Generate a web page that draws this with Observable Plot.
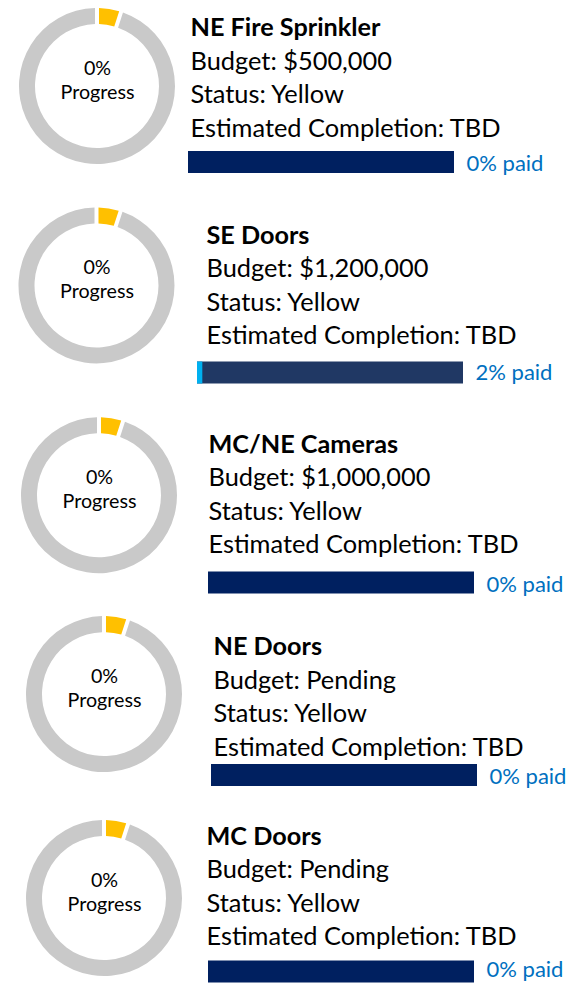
<!DOCTYPE html>
<html>
<head>
<meta charset="utf-8">
<script src="https://cdn.jsdelivr.net/npm/d3@7"></script>
<script src="https://cdn.jsdelivr.net/npm/@observablehq/plot@0.6"></script>
<style>
  html, body { margin: 0; padding: 0; background: #ffffff; overflow: hidden; }
  #chart svg { display: block; }
</style>
</head>
<body>
<div id="chart"></div>
<script>
// ---------- DATA ----------
const projects     = ["NE Fire Sprinkler", "SE Doors", "MC/NE Cameras", "NE Doors", "MC Doors"];
const budgets      = ["$500,000", "$1,200,000", "$1,000,000", "Pending", "Pending"];
const statuses     = ["Yellow", "Yellow", "Yellow", "Yellow", "Yellow"];
const completions  = ["TBD", "TBD", "TBD", "TBD", "TBD"];
const progressPct  = [0, 0, 0, 0, 0];   // "% Progress" shown in each donut
const statusSlice  = [5, 5, 5, 5, 5];   // size (percent of ring) of the status wedge
const paidPct      = [0, 2, 0, 0, 0];   // "% paid" on each bar

// ---------- STYLE / LAYOUT (kept apart from the data) ----------
const W = 574, H = 983;
const ringGray = "#C9C9C9", statusColor = "#FFC000";
const barColors = ["#002060", "#203864", "#002060", "#002060", "#002060"];
const paidColor = "#00B0F0", paidTextColor = "#0070C0";
const innerR = 62, outerR = 78;
const donutX = 100;          // uniform donut centre x
const titleDy = -46;         // title baseline relative to row centre
const lineGap = 33.5;        // spacing of text lines
const barDy = 81;            // bar centre relative to row centre
const barH = 22;
// small per-row nudges reproducing the slide's hand placement
const donutDx = [-3, -3.5, -1, 4, 4];
const donutDy = [0, -3.6, 3.2, -0.9, 0];
const textDx  = [-15, 1, 3, 8, 1];
const textDy  = [-4.5, 0, 6, 5.5, -8];
const barDx   = [-17, -8, 3, 6, 3];
const barDyN  = [-5.5, 2, 9, -1.5, -8];
const paidDyN = [0, -2, 0, 0, -4];   // keeps the last label inside the frame

// font sizes fitted so that Lato matches the widths of the original text
const ctx = document.createElement("canvas").getContext("2d");
function fit(text, weight, target) {
  ctx.font = `${weight} 100px Lato`;
  return 100 * target / ctx.measureText(text).width;
}
const bodySize  = fit("Estimated Completion: TBD", "normal", 311);
const titleSize = fit("NE Fire Sprinkler", "bold", 190);
const paidSize  = fit("0% paid", "normal", 77);
const donutSize = fit("Progress", "normal", 74);

const rows = projects.map((p, i) => ({
  project: p, budget: budgets[i], status: statuses[i], completion: completions[i],
  progress: progressPct[i], slice: statusSlice[i], paid: paidPct[i], i
}));

// donut rings drawn with d3.pie / d3.arc, centred through Plot's y scale
const donuts = (index, scales) => {
  const g = d3.create("svg:g");
  const arc = d3.arc().innerRadius(innerR).outerRadius(outerR).padAngle(0.04);
  rows.forEach((r) => {
    const cx = donutX + donutDx[r.i];
    const cy = scales.y(r.project) + donutDy[r.i];
    const slices = d3.pie().sort(null).value(d => d.v)([
      {v: r.slice, c: statusColor},
      {v: 100 - r.slice, c: ringGray}
    ]);
    g.append("g")
      .attr("transform", `translate(${cx},${cy})`)
      .selectAll("path").data(slices).join("path")
      .attr("d", arc)
      .attr("fill", d => d.data.c);
  });
  return g.node();
};

const rowMarks = rows.flatMap((r) => {
  const i = r.i;
  const d = [r];
  return [
    // donut centre label
    Plot.text(d, {
      y: "project", frameAnchor: "left",
      text: x => `${x.progress}%\nProgress`,
      textAnchor: "middle", lineAnchor: "bottom",
      lineHeight: 24 / donutSize, fontSize: donutSize, fill: "#000",
      dx: donutX + donutDx[i], dy: donutDy[i] + 12
    }),
    // title
    Plot.text(d, {
      x: 0, y: "project", text: "project",
      textAnchor: "start", lineAnchor: "bottom",
      fontWeight: "bold", fontSize: titleSize, fill: "#000",
      dx: textDx[i], dy: titleDy + textDy[i]
    }),
    // details
    Plot.text(d, {
      x: 0, y: "project",
      text: x => `Budget: ${x.budget}\nStatus: ${x.status}\nEstimated Completion: ${x.completion}`,
      textAnchor: "start", lineAnchor: "bottom",
      lineHeight: lineGap / bodySize, fontSize: bodySize, fill: "#000",
      dx: textDx[i], dy: titleDy + textDy[i] + 3 * lineGap
    }),
    // full bar (100%)
    Plot.ruleY(d, {
      y: "project", x1: 0, x2: 100,
      stroke: barColors[i], strokeWidth: barH,
      dx: barDx[i], dy: barDy + barDyN[i]
    }),
    // paid part
    Plot.ruleY(d, {
      y: "project", x1: 0, x2: "paid",
      stroke: paidColor, strokeWidth: barH,
      dx: barDx[i], dy: barDy + barDyN[i]
    }),
    // paid label
    Plot.text(d, {
      x: 100, y: "project", text: x => `${x.paid}% paid`,
      textAnchor: "start", lineAnchor: "bottom",
      fontSize: paidSize, fill: paidTextColor,
      dx: barDx[i] + 12, dy: barDy + barDyN[i] - barH / 2 + 20 + paidDyN[i]
    })
  ];
});

const chart = Plot.plot({
  width: W, height: H,
  margin: 0,
  style: {fontFamily: "Lato, 'Open Sans', sans-serif", background: "#ffffff"},
  x: {domain: [0, 100], range: [205, 471], axis: null},
  y: {type: "point", domain: projects, range: [84.5, 899], padding: 0, axis: null},
  marks: [donuts, ...rowMarks]
});
document.getElementById("chart").append(chart);
</script>
</body>
</html>
